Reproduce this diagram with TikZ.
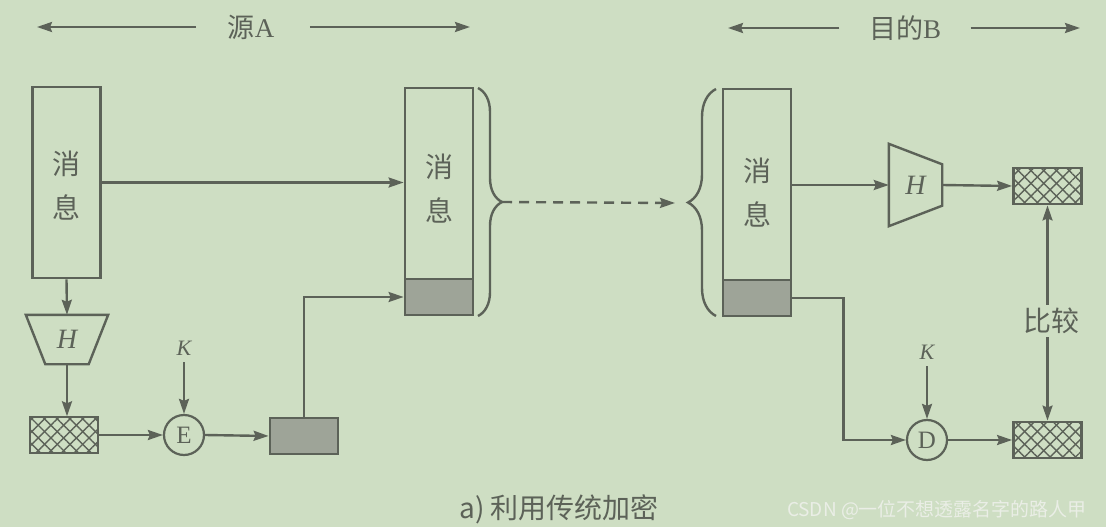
\documentclass[tikz,border=0pt]{standalone}
\usepackage{fontspec}
\setmainfont{Liberation Serif}
\newfontfamily\cjk{Noto Sans CJK SC}
\usetikzlibrary{arrows.meta,decorations.pathreplacing,patterns.meta}
\definecolor{ink}{RGB}{92,98,88}
\definecolor{paper}{RGB}{206,222,195}
\definecolor{sigfill}{RGB}{158,164,152}
\definecolor{mark}{RGB}{234,238,230}
\tikzset{
  msg/.style={draw,line width=2.8pt,minimum width=68pt,minimum height=191pt,inner sep=0pt},
  sig/.style={draw,line width=2.8pt,fill=sigfill,minimum width=68pt,minimum height=36pt,inner sep=0pt},
  digest/.style={draw,line width=2.8pt,minimum width=68pt,minimum height=36pt,inner sep=0pt,
    pattern={Lines[angle=45,distance=9pt,line width=1.4pt]},pattern color=ink,
    postaction={pattern={Lines[angle=-45,distance=9pt,line width=1.4pt]},pattern color=ink}},
  op/.style={draw,circle,line width=2.2pt,minimum size=40pt,inner sep=0pt,font=\fontsize{25}{25}\selectfont},
  hz/.style={font=\fontsize{28}{44}\selectfont\cjk,align=center},
  key/.style={font=\fontsize{22}{22}\selectfont\itshape,inner sep=1pt},
  hashbox/.style={inner sep=0pt,font=\fontsize{28}{28}\selectfont\itshape},
  conn/.style={->,line width=2.4pt},
}
\begin{document}
\begin{tikzpicture}[x=1pt,y=-1pt,color=ink,>={Stealth[length=15pt,width=10pt,inset=2pt]}]
\useasboundingbox (0,0) rectangle (1106,527);
\fill[paper] (0,0) rectangle (1106,527);
% header
\node[font=\fontsize{27}{27}\selectfont] (srcA) at (251,27) {{\cjk 源}A};
\node[font=\fontsize{27}{27}\selectfont] (dstB) at (905,28) {{\cjk 目的}B};
\coordinate (srcL) at (37,27); \coordinate (srcR) at (470,27);
\coordinate (dstL) at (728,28); \coordinate (dstR) at (1080,28);
\draw[conn] ([xshift=-28pt]srcA.west) -- (srcL);
\draw[conn] ([xshift=32pt]srcA.east) -- (srcR);
\draw[conn] ([xshift=-26pt]dstB.west) -- (dstL);
\draw[conn] ([xshift=26pt]dstB.east) -- (dstR);
% source A
\node[msg] (srcmsg) at (66.5,182.5) {};
\node[hz] (srcmsgtxt) at (66.5,186) {消\\息};
\node[hashbox,minimum width=82pt,minimum height=49pt] (hashA) at (67,339.5) {H};
\draw[line width=2.4pt] (hashA.north west) -- (hashA.north east) -- ([xshift=-19.5pt]hashA.south east)
  -- ([xshift=19.5pt]hashA.south west) -- cycle;
\node[digest] (digA) at (64,435) {};
\node[op] (enc) at (184,435) {E};
\node[key] (kA) at (184,348) {K};
\node[sig] (sigA) at (304,436) {};
\node[msg] (midmsg) at (439,183.5) {};
\node[hz] (midmsgtxt) at (439,189) {消\\息};
\node[sig] (midsig) at (439,297) {};
\coordinate (braceA) at (502,202);
\draw[line width=2.4pt,decorate,decoration={brace,amplitude=24pt}] (478,88) -- (478,316);
% destination B
\node[msg] (dstmsg) at (757,184.5) {};
\node[hz] (dstmsgtxt) at (757,193) {消\\息};
\node[sig] (dstsig) at (757,298) {};
\coordinate (braceB) at (688,203);
\draw[line width=2.4pt,decorate,decoration={brace,amplitude=28pt}] (716,316) -- (716,89);
\node[hashbox,minimum width=53pt,minimum height=82pt] (hashB) at (915.5,185) {H};
\draw[line width=2.4pt] (hashB.north west) -- ([yshift=-20.5pt]hashB.north east)
  -- ([yshift=20.5pt]hashB.south east) -- (hashB.south west) -- cycle;
\node[digest] (digB1) at (1047.5,186) {};
\node[hz] (cmp) at (1051,321) {比较};
\node[digest] (digB2) at (1047.5,440) {};
\node[op] (dec) at (927,440) {D};
\node[key] (kB) at (927,352) {K};
% connectors
\draw[conn] (srcmsg.east) -- (srcmsg.east -| midmsg.west);
\draw[conn] (srcmsg.south) -- (hashA.north);
\draw[conn] (hashA.south) -- (hashA.south |- digA.north);
\draw[conn] (digA.east) -- (enc.west);
\draw[conn,shorten <=6pt] (kA.south) -- (enc.north);
\draw[conn] (enc.east) -- (sigA.west);
\draw[conn] (sigA.north) |- (midsig.west);
\draw[conn,dash pattern=on 10pt off 7pt] (braceA) -- ([xshift=-13pt]braceB);
\draw[conn] (dstmsg.east |- hashB.west) -- (hashB.west);
\draw[conn] (hashB.east) -- (digB1.west);
\draw[conn] (digB1.south |- cmp.north) -- (digB1.south);
\draw[conn] (digB2.north |- cmp.south) -- (digB2.north);
\draw[conn,shorten <=6pt] (kB.south) -- (dec.north);
\draw[conn] (dstsig.east) -- ++(51pt,0pt) |- (dec.west);
\draw[conn] (dec.east) -- (digB2.west);
% caption
\node[font=\fontsize{28}{28}\selectfont\cjk] (cap) at (559,509) {a) 利用传统加密};
\node[font=\fontsize{19}{19}\selectfont\cjk,text=mark] (wm) at (937,510) {CSDN @一位不想透露名字的路人甲};
\end{tikzpicture}
\end{document}
